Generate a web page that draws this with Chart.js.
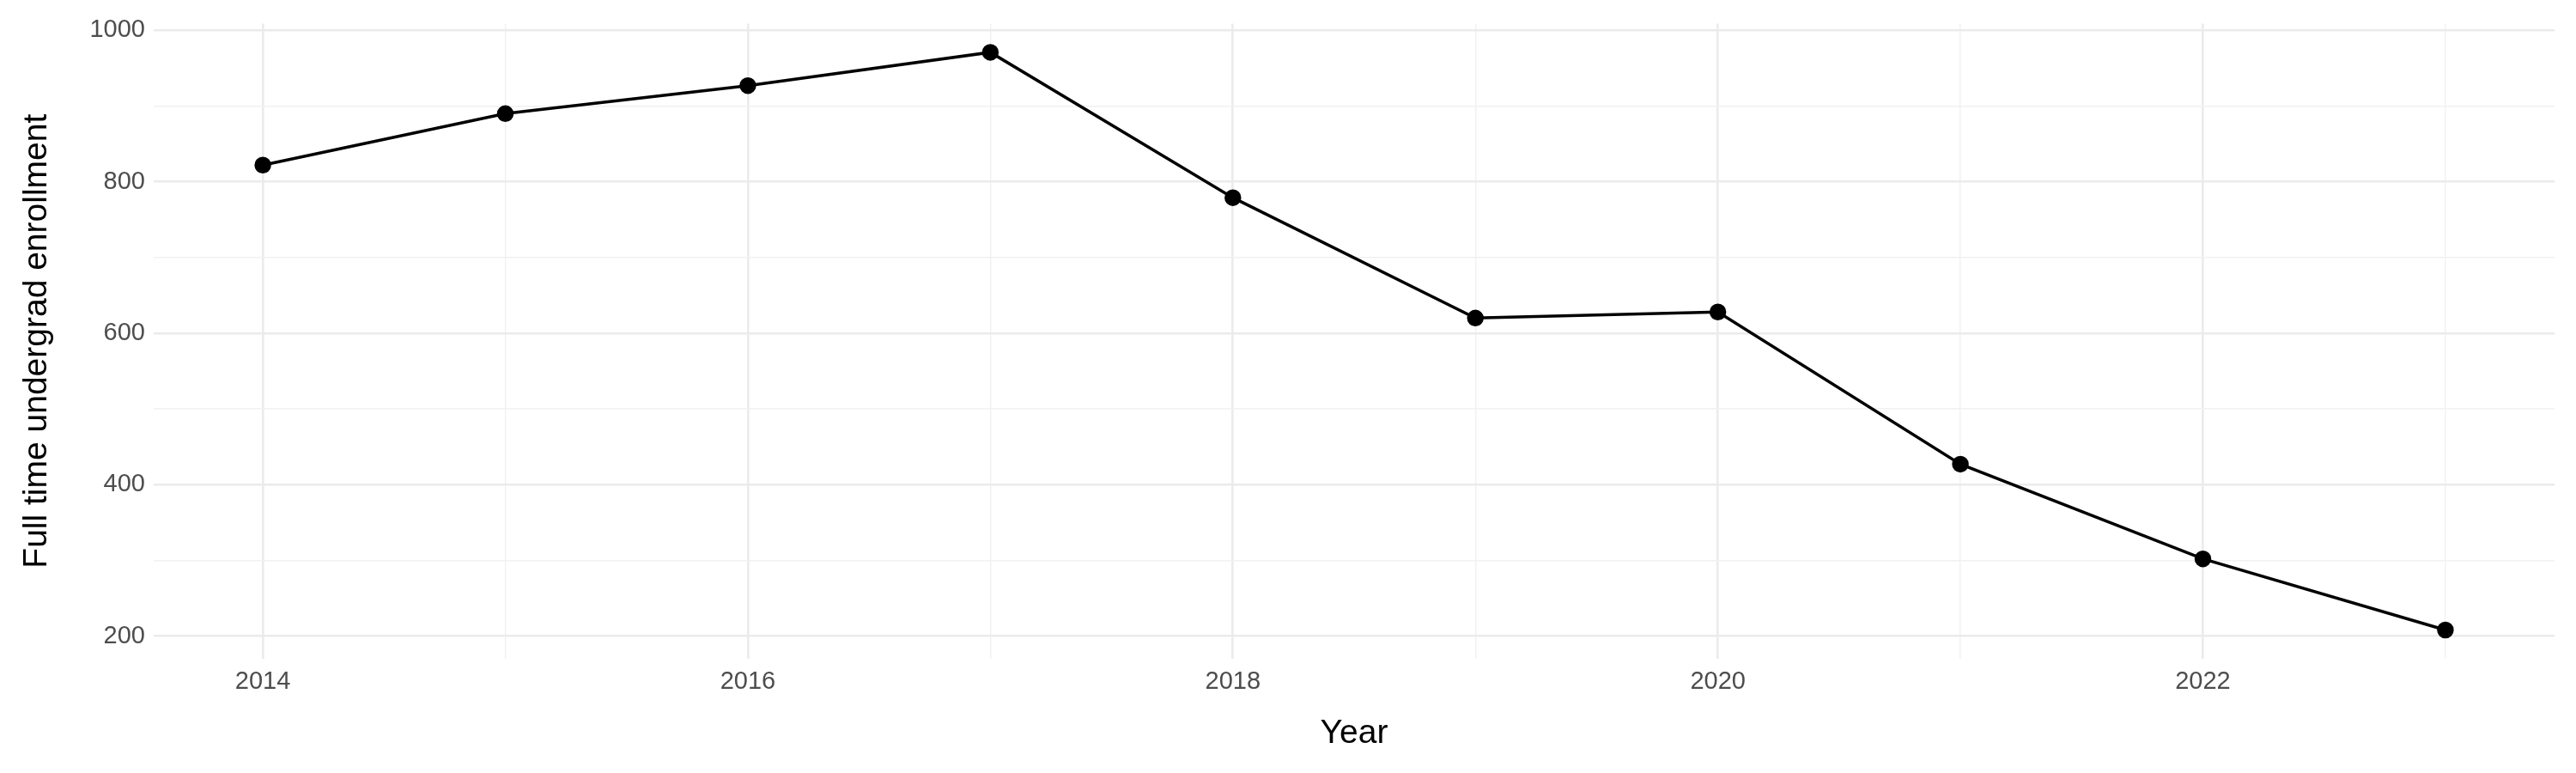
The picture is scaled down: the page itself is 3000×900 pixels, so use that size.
<!DOCTYPE html>
<html><head><meta charset="utf-8">
<script src="https://cdn.jsdelivr.net/npm/chart.js@4"></script>
<style>html,body{margin:0;padding:0;background:#fff}</style>
</head><body>
<canvas id="c" width="3000" height="900"></canvas>
<script>
const years = [2014,2015,2016,2017,2018,2019,2020,2021,2022,2023];
const enrollment = [822,890,927,971,779,620,628,427,302,208];
const xTicks = [2014,2015,2016,2017,2018,2019,2020,2021,2022,2023];
const yTicks = [200,300,400,500,600,700,800,900,1000];
const font = {family:'"Liberation Sans", Arial, sans-serif'};
new Chart(document.getElementById('c'), {
  type:'line',
  data:{datasets:[{data:years.map((y,i)=>({x:y,y:enrollment[i]})),
    borderColor:'#000',backgroundColor:'#000',borderWidth:3.5,pointRadius:8,pointHoverRadius:8,tension:0}]},
  options:{responsive:false,animation:false,devicePixelRatio:1,
    layout:{padding:{top:23,right:25,left:16,bottom:18}},
    plugins:{legend:{display:false},tooltip:{enabled:false}},
    scales:{
      x:{type:'linear',min:2013.55,max:2023.45,
        afterBuildTicks:a=>{a.ticks=xTicks.map(v=>({value:v}))},
        afterFit:a=>{a.height=115},
        border:{display:false},
        grid:{color:c=>c.tick&&c.tick.value%2===0?'#ebebeb':'#f1f1f1',lineWidth:c=>c.tick&&c.tick.value%2===0?2.6:1.4,drawTicks:false},
        ticks:{autoSkip:false,maxRotation:0,padding:10,color:'#4d4d4d',font:{...font,size:29},callback:v=>v%2===0?String(v):''},
        title:{display:true,text:'Year',color:'#000',font:{...font,size:39},padding:{top:4}}},
      y:{min:170,max:1009,
        afterBuildTicks:a=>{a.ticks=yTicks.map(v=>({value:v}))},
        afterFit:a=>{a.width=163},
        border:{display:false},
        grid:{color:c=>c.tick&&c.tick.value%200===0?'#ebebeb':'#f1f1f1',lineWidth:c=>c.tick&&c.tick.value%200===0?2.6:1.4,drawTicks:false},
        ticks:{autoSkip:false,padding:10,color:'#4d4d4d',font:{...font,size:29},callback:v=>v%200===0?String(v):''},
        title:{display:true,text:'Full time undergrad enrollment',color:'#000',font:{...font,size:39},padding:{bottom:8}}}
    }}
});
</script>
</body></html>
